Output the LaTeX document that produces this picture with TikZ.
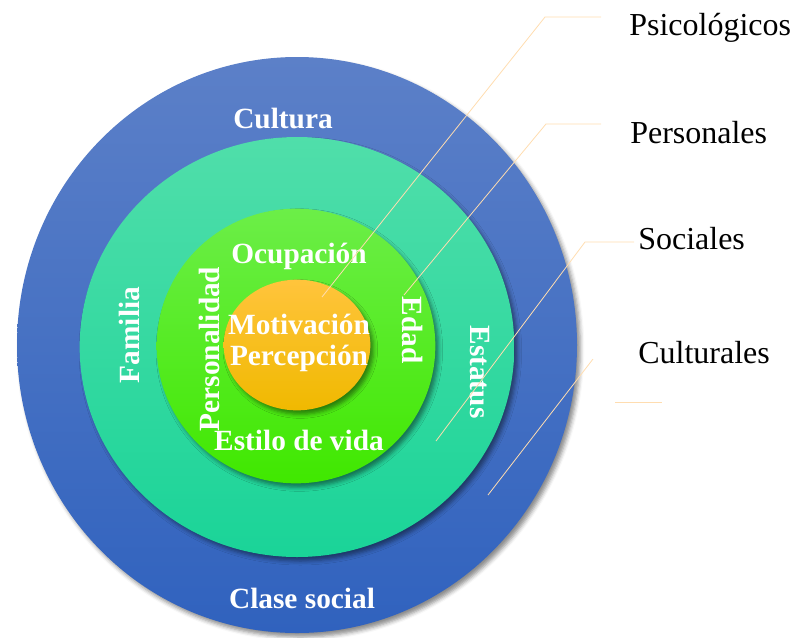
\documentclass[tikz,border=0pt]{standalone}
\usepackage{fontspec}
\setmainfont{Liberation Serif}
\usepackage{tikz}
\usetikzlibrary{shapes.geometric, shadows.blur}

\definecolor{bluetop}{HTML}{5C80C8}
\definecolor{bluebot}{HTML}{3062BE}
\definecolor{tealtop}{HTML}{50DEAA}
\definecolor{tealbot}{HTML}{1AD498}
\definecolor{greentop}{HTML}{6CEE48}
\definecolor{greenbot}{HTML}{40E800}
\definecolor{orangetop}{HTML}{FFC43C}
\definecolor{orangebot}{HTML}{F0B900}
\definecolor{leadercol}{HTML}{FFDDB0}

\begin{document}
\begin{tikzpicture}[
    x=0.75pt, y=-0.75pt,
    ring/.style={ellipse, draw=none, inner sep=0pt,
        blur shadow={shadow xshift=2.5pt, shadow yshift=-3pt, shadow blur radius=3pt, shadow opacity=45}},
    inlabel/.style={text=white, font=\fontsize{22}{26}\selectfont\bfseries, inner sep=0pt},
    outlabel/.style={text=black, font=\fontsize{24}{28}\selectfont, inner sep=0pt, anchor=base west},
    leader/.style={draw=leadercol, line width=0.6pt}
]
\useasboundingbox (0,0) rectangle (793,637);

% rings, outside in
\node[ring, minimum width=420pt, minimum height=432pt, top color=bluetop, bottom color=bluebot] (cultura) at (297,345) {};
\node[ring, minimum width=326pt, minimum height=315pt, top color=tealtop, bottom color=tealbot] (social) at (297,347) {};
\node[ring, minimum width=209pt, minimum height=206pt, top color=greentop, bottom color=greenbot] (personal) at (296,346) {};
\node[ring, minimum width=110pt, minimum height=98pt, top color=orangetop, bottom color=orangebot] (psico) at (297,345) {};

% factors inside the rings
\node[inlabel] (cult) at (283,118) {Cultura};
\node[inlabel] (clase) at (302,598) {Clase social};
\node[inlabel, rotate=90] (fam) at (129,335) {Familia};
\node[inlabel, rotate=-90] (estat) at (480,372) {Estatus};
\node[inlabel] (ocup) at (299,256) {Ocupación};
\node[inlabel] (estilo) at (299,440) {Estilo de vida};
\node[inlabel, rotate=90] (perso) at (209,349) {Personalidad};
\node[inlabel, rotate=-90] (edad) at (413,330) {Edad};
\node[inlabel] (motiv) at (299,324) {Motivación};
\node[inlabel] (perc) at (299,358) {Percepción};

% legend on the right
\node[outlabel] (psi) at (629,35) {Psicológicos};
\node[outlabel] (per) at (630,143) {Personales};
\node[outlabel] (soc) at (638,249) {Sociales};
\node[outlabel] (cul) at (638,363) {Culturales};

\coordinate (psi-a) at (322,297);
\coordinate (psi-b) at (545,17);
\coordinate (psi-c) at (601,17);
\coordinate (per-a) at (404,295);
\coordinate (per-b) at (546,124);
\coordinate (per-c) at (601,124);
\coordinate (soc-a) at (436,441);
\coordinate (soc-b) at (585,242);
\coordinate (soc-c) at (634,242);
\coordinate (cul-a) at (488,495);
\coordinate (cul-b) at (593,359);
\coordinate (cul-c) at (615,402);
\coordinate (cul-d) at (662,402);

\draw[leader] (psi-a) -- (psi-b) -- (psi-c);
\draw[leader] (per-a) -- (per-b) -- (per-c);
\draw[leader] (soc-a) -- (soc-b) -- (soc-c);
\draw[leader] (cul-a) -- (cul-b);
\draw[leader] (cul-c) -- (cul-d);
\end{tikzpicture}
\end{document}
